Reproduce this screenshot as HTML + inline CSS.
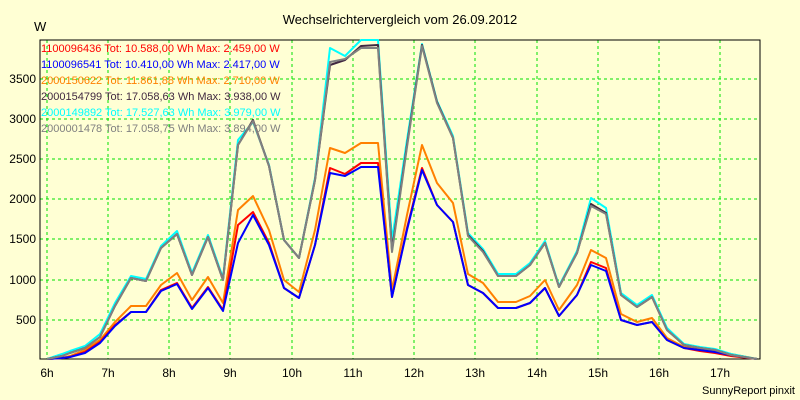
<!DOCTYPE html>
<html><head><style>
html,body{margin:0;padding:0;background:#FFFFD4;}
svg{display:block;font-family:"Liberation Sans",sans-serif;}
</style></head><body>
<svg width="800" height="400" xmlns="http://www.w3.org/2000/svg">
<rect width="800" height="400" fill="#FFFFD4"/>
<text x="400" y="24" font-size="13" text-anchor="middle">Wechselrichtervergleich vom 26.09.2012</text>
<text x="34" y="31" font-size="13">W</text>
<g stroke="#00E000" stroke-width="1" stroke-dasharray="3,3" shape-rendering="crispEdges">
<line x1="47" y1="40" x2="47" y2="359"/><line x1="108" y1="40" x2="108" y2="359"/><line x1="169" y1="40" x2="169" y2="359"/><line x1="230" y1="40" x2="230" y2="359"/><line x1="292" y1="40" x2="292" y2="359"/><line x1="353" y1="40" x2="353" y2="359"/><line x1="414" y1="40" x2="414" y2="359"/><line x1="475" y1="40" x2="475" y2="359"/><line x1="537" y1="40" x2="537" y2="359"/><line x1="598" y1="40" x2="598" y2="359"/><line x1="659" y1="40" x2="659" y2="359"/><line x1="720" y1="40" x2="720" y2="359"/>
<line x1="40" y1="320" x2="760" y2="320"/><line x1="40" y1="280" x2="760" y2="280"/><line x1="40" y1="239" x2="760" y2="239"/><line x1="40" y1="199" x2="760" y2="199"/><line x1="40" y1="159" x2="760" y2="159"/><line x1="40" y1="119" x2="760" y2="119"/><line x1="40" y1="79" x2="760" y2="79"/>
</g>
<rect x="40" y="40" width="720" height="319" fill="none" stroke="#000" stroke-width="1" shape-rendering="crispEdges"/>
<g font-size="12" text-anchor="end">
<text x="36" y="324">500</text><text x="36" y="284">1000</text><text x="36" y="243">1500</text><text x="36" y="203">2000</text><text x="36" y="163">2500</text><text x="36" y="123">3000</text><text x="36" y="83">3500</text>
</g>
<g font-size="12" text-anchor="middle">
<text x="47" y="377">6h</text><text x="108" y="377">7h</text><text x="169" y="377">8h</text><text x="230" y="377">9h</text><text x="292" y="377">10h</text><text x="353" y="377">11h</text><text x="414" y="377">12h</text><text x="475" y="377">13h</text><text x="537" y="377">14h</text><text x="598" y="377">15h</text><text x="659" y="377">16h</text><text x="720" y="377">17h</text>
</g>
<text x="795" y="394" font-size="11" text-anchor="end">SunnyReport pinxit</text>
<g fill="none" stroke-width="2" stroke-linejoin="round">
<polyline stroke="#FF8000" points="47,359 62,358 70,356 85,350 100,340 115,322 131,306 146,306 161,285 177,273 192,300 208,277 223,303 238,210 253,196 269,230 284,280 299,292 315,230 330,148 345,153 361,143 378,143 392,290 407,215 422,145 437,183 453,203 468,274 483,283 498,302 516,302 530,296 545,280 559,310 577,285 591,250 606,258 621,314 637,322 652,318 667,338 684,347 700,349 715,351 731,354 757,359"/>
<polyline stroke="#FF0000" points="47,359 62,358 70,357 85,352 100,342 115,325 131,312 146,312 161,290 177,283 192,308 208,287 223,310 238,225 253,212 269,243 284,288 299,298 315,245 330,168 345,174 361,163 378,163 392,297 407,228 422,168 437,205 453,222 468,285 483,293 498,308 516,308 530,303 545,288 559,316 577,295 591,262 606,268 621,320 637,325 652,322 667,340 684,348 700,351 715,353 731,356 757,359"/>
<polyline stroke="#0000FF" points="47,359 62,358 70,357 85,353 100,343 115,326 131,312 146,312 161,291 177,284 192,309 208,288 223,311 238,243 253,215 269,245 284,288 299,298 315,245 330,173 345,176 361,167 378,167 392,297 407,230 422,170 437,205 453,222 468,285 483,293 498,308 516,308 530,303 545,288 559,316 577,295 591,265 606,271 621,320 637,325 652,322 667,340 684,348 700,350 715,352 731,355 757,359"/>
<polyline stroke="#00FFFF" points="47,359 62,354 70,351 85,346 100,334 115,303 131,276 146,279 161,246 177,231 192,273 208,235 223,278 238,140 253,122 269,165 284,240 299,258 315,178 330,48 345,56 361,40 378,40 392,240 407,140 422,44 437,101 453,136 468,233 483,249 498,274 516,274 530,263 545,241 559,286 577,251 591,198 606,208 621,293 637,305 652,295 667,328 684,344 700,347 715,349 731,354 757,359"/>
<polyline stroke="#402840" points="47,359 62,356 70,353 85,348 100,337 115,306 131,278 146,281 161,248 177,234 192,275 208,237 223,280 238,145 253,120 269,166 284,240 299,258 315,180 330,65 345,60 361,46 378,45 392,250 407,145 422,45 437,102 453,138 468,235 483,251 498,276 516,276 530,265 545,243 559,287 577,253 591,204 606,213 621,295 637,307 652,297 667,330 684,345 700,348 715,350 731,355 757,359"/>
<polyline stroke="#808080" points="47,359 62,356 70,353 85,348 100,337 115,306 131,278 146,281 161,248 177,234 192,275 208,237 223,280 238,145 253,121 269,166 284,240 299,258 315,180 330,62 345,59 361,48 378,48 392,252 407,147 422,46 437,103 453,138 468,236 483,252 498,276 516,276 530,265 545,243 559,287 577,253 591,206 606,214 621,295 637,307 652,297 667,330 684,345 700,348 715,350 731,355 757,359"/>
</g>
<g font-size="11">
<text x="41" y="52" fill="#FF0000">1100096436 Tot: 10.588,00 Wh Max: 2.459,00 W</text>
<text x="41" y="68" fill="#0000FF">1100096541 Tot: 10.410,00 Wh Max: 2.417,00 W</text>
<text x="41" y="84" fill="#FF8000">2000150622 Tot: 11.861,88 Wh Max: 2.710,00 W</text>
<text x="41" y="100" fill="#402840">2000154799 Tot: 17.058,63 Wh Max: 3.938,00 W</text>
<text x="41" y="116" fill="#00FFFF">2000149892 Tot: 17.527,63 Wh Max: 3.979,00 W</text>
<text x="41" y="132" fill="#808080">2000001478 Tot: 17.058,75 Wh Max: 3.894,00 W</text>
</g>
</svg>
</body></html>
